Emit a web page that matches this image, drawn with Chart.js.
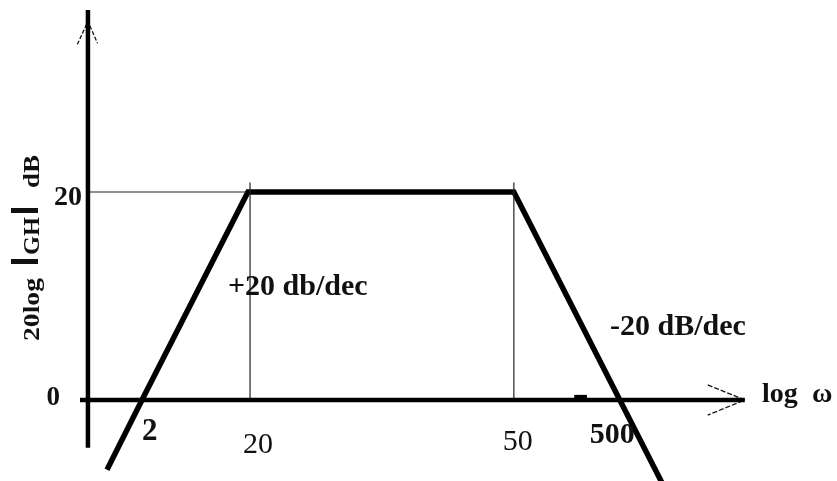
<!DOCTYPE html>
<html>
<head>
<meta charset="utf-8">
<script src="https://cdn.jsdelivr.net/npm/chart.js@4/dist/chart.umd.min.js"></script>
<style>
  html, body { margin: 0; padding: 0; background: #fff; }
  canvas { display: block; }
</style>
</head>
<body>
<canvas id="bode" width="837" height="481"></canvas>
<script>
// Asymptotic Bode magnitude sketch. x is position along the hand-drawn log ω axis
// (one unit per segment length), y is in dB.
const breakLabels = ["2", "20", "50", "500"];
const breakPos = [0.51, 1.53, 4.02, 5.02];
const gainDb = [-6.7, 0, 20, 20, 0, -8];
const gainPos = [0.18, 0.51, 1.51, 4.02, 5.02, 5.42];
const levelLabels = ["0", "20"];
const levelDb = [0, 20];
const slopeNotes = ["+20 db/dec", "-20 dB/dec"];

const X_MIN = -0.83, X_MAX = 7.07;
const Y_MIN = -7.79, Y_MAX = 38.46;

const ink = "#000";
const textInk = "#111";
const serif = "'Liberation Serif', 'DejaVu Serif', serif";

const magnitude = gainPos.map((x, i) => ({ x, y: gainDb[i] }));

const line = (pts, width, color, dash) => ({
  data: pts,
  borderColor: color || ink,
  borderWidth: width,
  borderDash: dash || [],
  pointRadius: 0,
  fill: false,
  tension: 0,
  borderCapStyle: "butt",
  borderJoinStyle: "miter",
});

const datasets = [
  // axes
  line([{ x: 0, y: -4.6 }, { x: 0, y: 37.5 }], 4.5),
  line([{ x: -0.075, y: 0 }, { x: 6.2, y: 0 }], 4.5),
  // arrow heads, sketchy
  line([{ x: -0.1, y: 34.2 }, { x: 0, y: 36.4 }, { x: 0.09, y: 34.3 }], 1.3, "#111", [4, 2]),
  line([{ x: 5.85, y: 1.45 }, { x: 6.2, y: 0 }, { x: 5.85, y: -1.45 }], 1.3, "#111", [5, 2]),
  // stray tick on the ω axis
  line([{ x: 4.59, y: 0.3 }, { x: 4.71, y: 0.3 }], 4),
  // guide lines to the corners
  line([{ x: 0.02, y: 20 }, { x: 1.5, y: 20 }], 1.2, "#222"),
  line([{ x: breakPos[1], y: 0 }, { x: breakPos[1], y: 20.9 }], 1.2, "#222"),
  line([{ x: breakPos[2], y: 0 }, { x: breakPos[2], y: 20.9 }], 1.2, "#222"),
  // magnitude asymptotes
  line(magnitude, 5.5),
];

const labelsPlugin = {
  id: "bodeLabels",
  afterDatasetsDraw(chart) {
    const { ctx, scales: { x, y } } = chart;
    const px = (v) => x.getPixelForValue(v);
    const py = (v) => y.getPixelForValue(v);
    ctx.save();
    ctx.fillStyle = textInk;
    ctx.textBaseline = "alphabetic";

    const put = (txt, xx, yy, font, align) => {
      ctx.font = font;
      ctx.textAlign = align || "left";
      ctx.fillText(txt, xx, yy);
    };

    // level labels
    put(levelLabels[1], px(0) - 6, py(levelDb[1]) + 13, "bold 28px " + serif, "right");
    put(levelLabels[0], px(0) - 28, py(levelDb[0]) + 5, "bold 27px " + serif, "right");

    // break frequency labels
    put(breakLabels[0], px(breakPos[0]), py(0) + 40, "bold 31px " + serif);
    put(breakLabels[1], px(breakPos[1]) - 7, py(0) + 53, "30px " + serif);
    put(breakLabels[2], px(breakPos[2]) - 11, py(0) + 50, "30px " + serif);
    put(breakLabels[3], px(breakPos[3]) - 30, py(0) + 43, "bold 30px " + serif);

    // slope notes
    put(slopeNotes[0], 228, 295, "bold 30px " + serif);
    put(slopeNotes[1], 610, 335, "bold 30px " + serif);

    // axis names
    put("log", 762, 402, "bold 28px " + serif);
    put("ω", 812, 402, "bold 28px " + serif);

    // rotated y title, laid out piece by piece with heavy bars
    ctx.translate(39, 341);
    ctx.rotate(-Math.PI / 2);
    const piece = (txt, from, to) => {
      ctx.font = "bold 24px " + serif;
      ctx.textAlign = "left";
      const w = ctx.measureText(txt).width;
      ctx.save();
      ctx.translate(from, 0);
      ctx.scale((to - from) / w, 1);
      ctx.fillText(txt, 0, 0);
      ctx.restore();
    };
    piece("20log", 0, 63);
    ctx.fillRect(77, -28, 5, 27);
    piece("GH", 86, 124);
    ctx.fillRect(128, -28, 5, 27);
    piece("dB", 153, 186);
    ctx.restore();
  },
};

new Chart(document.getElementById("bode"), {
  type: "line",
  data: { datasets },
  options: {
    responsive: false,
    animation: false,
    layout: { padding: 0 },
    plugins: { legend: { display: false }, tooltip: { enabled: false } },
    scales: {
      x: { type: "linear", min: X_MIN, max: X_MAX, display: false },
      y: { type: "linear", min: Y_MIN, max: Y_MAX, display: false },
    },
  },
  plugins: [labelsPlugin],
});
</script>
</body>
</html>
